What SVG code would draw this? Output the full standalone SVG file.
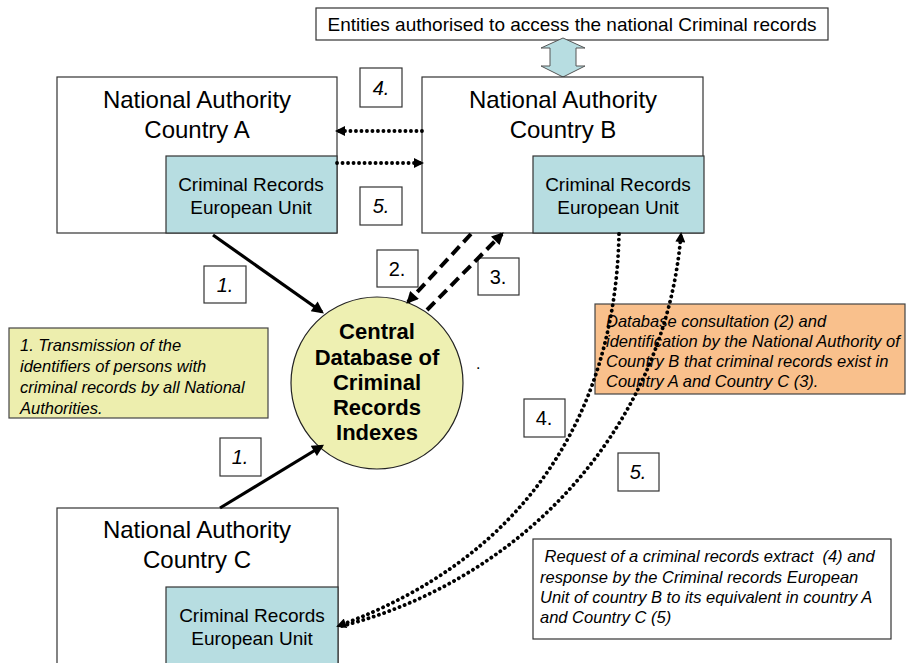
<svg xmlns="http://www.w3.org/2000/svg" width="907" height="663" viewBox="0 0 907 663">
<style>
text{font-family:"Liberation Sans",Arial,sans-serif;fill:#000}
.box{fill:#fff;stroke:#333;stroke-width:1.2}
.unit{fill:#b7dde1;stroke:#333;stroke-width:1.2}
.na{font-size:24px;text-anchor:middle}
.cu{font-size:19px;text-anchor:middle}
.lab{font-size:20px;text-anchor:middle}
.it{font-style:italic}
.note{font-size:16.5px;font-style:italic;white-space:pre}
.solid{fill:none;stroke:#000;stroke-width:3.2}
.dash{fill:none;stroke:#000;stroke-width:4;stroke-dasharray:11 6}
.dot{fill:none;stroke:#000;stroke-width:3.8;stroke-dasharray:0.1 5.4;stroke-linecap:round}
</style>
<defs>
<marker id="ah" viewBox="0 0 10 10" refX="8" refY="5" markerUnits="userSpaceOnUse" markerWidth="15" markerHeight="12" orient="auto"><path d="M0,0 L10,5 L0,10 z" fill="#000"/></marker>
<marker id="ahs" viewBox="0 0 10 10" refX="8" refY="5" markerUnits="userSpaceOnUse" markerWidth="11" markerHeight="10" orient="auto"><path d="M0,0 L10,5 L0,10 z" fill="#000"/></marker>
</defs>
<rect width="907" height="663" fill="#fff"/>

<g id="entities">
<rect class="box" x="316" y="8" width="512" height="32"/>
<text x="572" y="31" style="font-size:19px" text-anchor="middle">Entities authorised to access the national Criminal records</text>
</g>
<g id="access-arrow">
<polygon points="563,38 585,48 576,48 576,66 585,66 563,77 541,66 550,66 550,48 541,48" fill="#b7dde1" stroke="#555" stroke-width="1"/>
</g>

<g id="country-a">
<rect class="box" x="57" y="77" width="280" height="156"/>
<text class="na" x="197" y="108">National Authority</text>
<text class="na" x="197" y="138">Country A</text>
<rect class="unit" x="166" y="156" width="171" height="77"/>
<text class="cu" x="251" y="191">Criminal Records</text>
<text class="cu" x="251" y="214">European Unit</text>
</g>

<g id="country-b">
<rect class="box" x="422" y="77" width="281" height="156"/>
<text class="na" x="563" y="108">National Authority</text>
<text class="na" x="563" y="138">Country B</text>
<rect class="unit" x="533" y="156" width="171" height="77"/>
<text class="cu" x="618" y="191">Criminal Records</text>
<text class="cu" x="618" y="214">European Unit</text>
</g>

<g id="country-c">
<rect class="box" x="57" y="508" width="281" height="170"/>
<text class="na" x="197" y="538">National Authority</text>
<text class="na" x="197" y="568">Country C</text>
<rect class="unit" x="166" y="587" width="172" height="90"/>
<text class="cu" x="252" y="622">Criminal Records</text>
<text class="cu" x="252" y="645">European Unit</text>
</g>

<g id="central-db">
<circle cx="377" cy="383" r="86" fill="#eef0b2" stroke="#222" stroke-width="1.2"/>
<g style="font-size:22px;font-weight:bold" text-anchor="middle">
<text x="377" y="339">Central</text>
<text x="377" y="365">Database of</text>
<text x="377" y="390">Criminal</text>
<text x="377" y="415">Records</text>
<text x="377" y="440">Indexes</text>
</g>
</g>
<text x="476" y="369" style="font-size:16px">.</text>

<g id="note-1">
<rect x="9" y="328" width="259" height="90" fill="#edeeae" stroke="#444" stroke-width="1.2"/>
<text class="note" x="20" y="351">1. Transmission of the</text>
<text class="note" x="20" y="372">identifiers of persons with</text>
<text class="note" x="20" y="393">criminal records by all National</text>
<text class="note" x="20" y="414">Authorities.</text>
</g>

<g id="note-2-3">
<rect x="595" y="304" width="310" height="90" fill="#f9c08c" stroke="#444" stroke-width="1.2"/>
<text class="note" x="606" y="327">Database consultation (2) and</text>
<text class="note" x="606" y="347">identification by the National Authority of</text>
<text class="note" x="606" y="367">Country B that criminal records exist in</text>
<text class="note" x="606" y="387">Country A and Country C (3).</text>
</g>

<g id="note-4-5">
<rect class="box" x="533" y="539" width="358" height="100"/>
<text class="note" x="540" y="562"> Request of a criminal records extract  (4) and</text>
<text class="note" x="540" y="583">response by the Criminal records European</text>
<text class="note" x="540" y="603">Unit of country B to its equivalent in country A</text>
<text class="note" x="540" y="623">and Country C (5)</text>
</g>

<g id="labels">
<g id="label-4a"><rect class="box" x="360" y="68" width="42" height="39"/><text class="lab it" x="381" y="95">4.</text></g>
<g id="label-5a"><rect class="box" x="360" y="187" width="42" height="38"/><text class="lab it" x="381" y="213">5.</text></g>
<g id="label-1a"><rect class="box" x="204" y="266" width="42" height="37"/><text class="lab it" x="225" y="292">1.</text></g>
<g id="label-1c"><rect class="box" x="220" y="438" width="41" height="38"/><text class="lab it" x="240" y="464">1.</text></g>
<g id="label-2"><rect class="box" x="377" y="250" width="41" height="37"/><text class="lab" x="397" y="276">2.</text></g>
<g id="label-3"><rect class="box" x="478" y="258" width="41" height="37"/><text class="lab" x="498" y="284">3.</text></g>
<g id="label-4b"><rect class="box" x="524" y="399" width="41" height="38"/><text class="lab" x="544" y="425">4.</text></g>
<g id="label-5b"><rect class="box" x="618" y="453" width="41" height="38"/><text class="lab it" x="638" y="479">5.</text></g>
</g>

<g id="connectors">
<path class="solid" d="M213,235 L322,312" marker-end="url(#ah)"/>
<path class="solid" d="M220,508 L322,446" marker-end="url(#ah)"/>
<path class="dash" d="M471,234 L408,302" marker-end="url(#ah)"/>
<path class="dash" d="M427,310 L502,234" marker-end="url(#ah)"/>
<path class="dot" d="M422,131 L337,131" marker-end="url(#ahs)"/>
<path class="dot" d="M337,163 L422,163" marker-end="url(#ahs)"/>
<path class="dot" d="M619,234 C615,420 520,560 338,626" marker-end="url(#ahs)"/>
<path class="dot" d="M342,626 C520,580 665,430 681,234" marker-end="url(#ahs)"/>
</g>
</svg>
